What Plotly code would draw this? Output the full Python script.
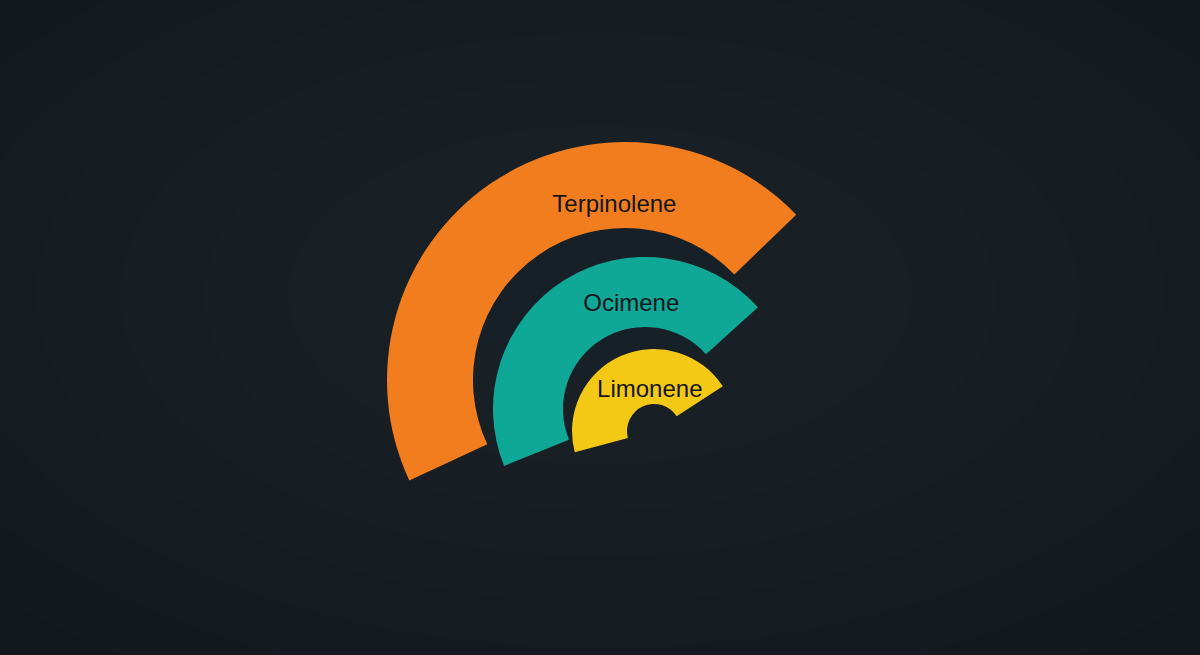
import plotly.graph_objects as go

# data
terpenes = ["Terpinolene", "Ocimene", "Limonene"]
arc_start = [44, 42, 33]        # degrees, where each arc begins (counterclockwise)
arc_sweep = [161, 160, 162]     # degrees covered by each arc
ring_inner = [152, 82, 27]
ring_outer = [238, 152, 82]

colors = ["#f27d1e", "#0fa897", "#f4c915"]

W, H = 1200, 655
# pixel centre of each ring (they are not concentric in the picture)
centers = [(625, 380), (645, 409), (654, 431)]
label_pos = [(93.5, 174), (97.5, 105), (96, 40)]  # (theta, r) of the text

fig = go.Figure()

layout_polars = {}
for i, name in enumerate(terpenes):
    key = "polar" if i == 0 else f"polar{i + 1}"
    theta_mid = arc_start[i] + arc_sweep[i] / 2
    fig.add_trace(go.Barpolar(
        theta=[theta_mid],
        width=[arc_sweep[i]],
        base=[ring_inner[i]],
        r=[ring_outer[i] - ring_inner[i]],
        marker=dict(color=colors[i], line=dict(width=0)),
        name=name,
        subplot=key,
        hoverinfo="name",
    ))
    fig.add_trace(go.Scatterpolar(
        theta=[label_pos[i][0]],
        r=[label_pos[i][1]],
        mode="text",
        text=[name],
        textfont=dict(family="Liberation Sans, Arial, sans-serif", size=24, color="#141719"),
        subplot=key,
        hoverinfo="skip",
    ))

    cx, cy = centers[i]
    s = ring_outer[i] + 2
    layout_polars[key] = dict(
        domain=dict(
            x=[(cx - s) / W, (cx + s) / W],
            y=[(H - cy - s) / H, (H - cy + s) / H],
        ),
        bgcolor="rgba(0,0,0,0)",
        radialaxis=dict(range=[0, s], visible=False),
        angularaxis=dict(visible=False, rotation=0, direction="counterclockwise"),
    )

# soft vignette behind everything
shapes = []
for k in range(10):
    f = 0.75 - k * 0.07
    shapes.append(dict(
        type="circle", xref="paper", yref="paper", layer="below",
        x0=0.5 - f, x1=0.5 + f, y0=0.55 - f, y1=0.55 + f,
        fillcolor="#222a31", opacity=0.13, line=dict(width=0),
    ))

fig.update_layout(
    width=W,
    height=H,
    margin=dict(l=0, r=0, t=0, b=0),
    paper_bgcolor="#12161a",
    plot_bgcolor="#12161a",
    showlegend=False,
    shapes=shapes,
    **layout_polars,
)

fig.write_html(
    "out.html",
    config={"displayModeBar": False},
    post_script="document.body.style.margin='0';document.body.style.background='#12161a';",
)
